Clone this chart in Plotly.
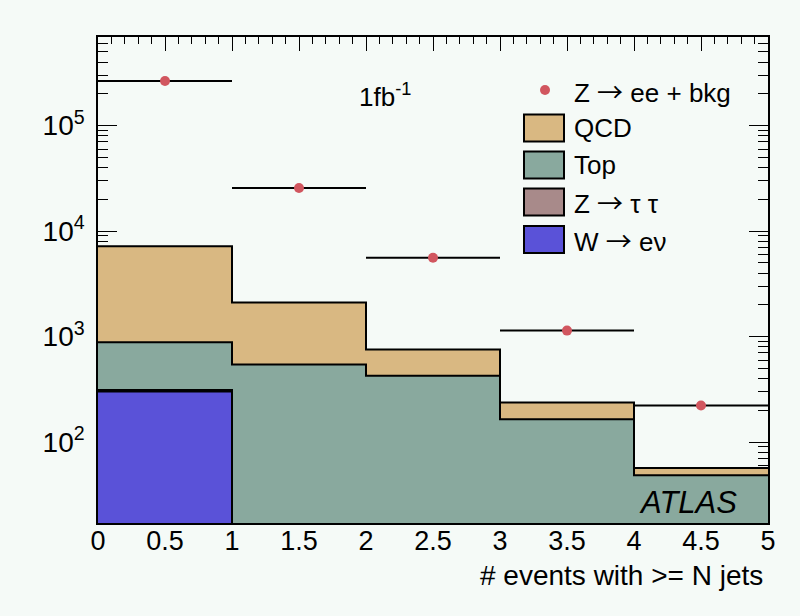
import plotly.graph_objects as go

# Bin edges for "events with >= N jets" (N = 0..4)
bin_edges = [0, 1, 2, 3, 4, 5]
bin_centers = [0.5, 1.5, 2.5, 3.5, 4.5]

# Observed Z -> ee + background candidates per bin
data_zee = [2.65e5, 2.56e4, 5.6e3, 1.14e3, 222]

# Background components (stacked, bottom to top)
w_enu = [301, 4, 1.5, 0.5, 0.2]
z_tautau = [10, 6, 3, 1, 0.4]
top = [573, 533, 420, 163, 48]
qcd = [6316, 1557, 330, 72.5, 8.3]

x_ticks = [0, 0.5, 1, 1.5, 2, 2.5, 3, 3.5, 4, 4.5, 5]
x_ticktext = ["0", "0.5", "1", "1.5", "2", "2.5", "3", "3.5", "4", "4.5", "5"]
y_ticks = [1e2, 1e3, 1e4, 1e5]
y_ticktext = ["10<sup>2</sup>", "10<sup>3</sup>", "10<sup>4</sup>", "10<sup>5</sup>"]

BG = "#f5faf7"
FONT = "Liberation Sans, Arial, Helvetica, sans-serif"
Y_FLOOR = 1.0

COL_QCD = "#d9b882"
COL_TOP = "#89a99e"
COL_ZTT = "#a88a8a"
COL_W = "#5a52d8"
COL_DATA = "#d1565f"

# cumulative stack heights
cum_w = list(w_enu)
cum_ztt = [a + b for a, b in zip(cum_w, z_tautau)]
cum_top = [a + b for a, b in zip(cum_ztt, top)]
cum_qcd = [a + b for a, b in zip(cum_top, qcd)]


def step_xy(vals):
    xs, ys = [], []
    for i, v in enumerate(vals):
        v = max(v, Y_FLOOR)
        xs += [bin_edges[i], bin_edges[i + 1]]
        ys += [v, v]
    return xs, ys


fig = go.Figure()

# Stack drawn from the tallest layer down so lower layers overlay it
for cum, col in [(cum_qcd, COL_QCD), (cum_top, COL_TOP),
                 (cum_ztt, COL_ZTT), (cum_w, COL_W)]:
    xs, ys = step_xy(cum)
    fig.add_trace(go.Scatter(
        x=xs + [bin_edges[-1], bin_edges[0]],
        y=ys + [Y_FLOOR, Y_FLOOR],
        fill="toself", fillcolor=col, mode="lines",
        line=dict(width=0, color=col), hoverinfo="skip", showlegend=False))
    fig.add_trace(go.Scatter(
        x=xs, y=ys, mode="lines", line=dict(color="black", width=2),
        hoverinfo="skip", showlegend=False))

# Data points with bin-width horizontal bars
fig.add_trace(go.Scatter(
    x=bin_centers, y=data_zee, mode="markers",
    marker=dict(color=COL_DATA, size=10),
    error_x=dict(type="data", array=[0.5] * 5, symmetric=True,
                 color="black", thickness=2, width=0),
    showlegend=False))

# plot-area geometry (pixels)
L, R, T, B = 98, 32, 37, 93
W_FIG, H_FIG = 800, 616
PW, PH = W_FIG - L - R, H_FIG - T - B


def px(x):
    return (x - L) / PW


def py(y):
    return (H_FIG - B - y) / PH


ARROW = '<span style="font-family:Noto Sans CJK SC">\u2192</span>'

# Hand-built legend
shapes = []
annotations = []
dot_r = 5
shapes.append(dict(type="circle", xref="paper", yref="paper",
                   x0=px(545 - dot_r), x1=px(545 + dot_r),
                   y0=py(90 + dot_r), y1=py(90 - dot_r),
                   fillcolor=COL_DATA, line=dict(width=0)))
legend_rows = [
    ("Z " + ARROW + " ee + bkg", None, 90),
    ("QCD", COL_QCD, 128),
    ("Top", COL_TOP, 165),
    ("Z " + ARROW + " \u03c4 \u03c4", COL_ZTT, 202),
    ("W " + ARROW + " e\u03bd", COL_W, 239.5),
]
for label, col, yc in legend_rows:
    if col is not None:
        shapes.append(dict(type="rect", xref="paper", yref="paper",
                           x0=px(524), x1=px(564), y0=py(yc + 13.5), y1=py(yc - 13.5),
                           fillcolor=col, line=dict(color="black", width=2)))
    annotations.append(dict(text=label, xref="paper", yref="paper",
                            x=px(572), y=py(yc), xanchor="left", yanchor="middle",
                            showarrow=False, font=dict(size=26, color="black", family=FONT)))

annotations.append(dict(text="1fb<sup>-1</sup>", xref="paper", yref="paper",
                        x=px(357), y=py(96), xanchor="left", yanchor="middle",
                        showarrow=False, font=dict(size=26, color="black", family=FONT)))
annotations.append(dict(text="<i>ATLAS</i>", xref="paper", yref="paper",
                        x=px(739), y=py(502), xanchor="right", yanchor="middle",
                        showarrow=False, font=dict(size=31, color="black", family=FONT)))
annotations.append(dict(text="# events with >= N jets", xref="paper", yref="paper",
                        x=px(765), y=py(575), xanchor="right", yanchor="middle",
                        showarrow=False, font=dict(size=28, color="black", family=FONT)))

y_minor = [m * 10 ** k for k in range(1, 6) for m in range(2, 10)]
x_minor = [i / 10 for i in range(0, 51) if i % 5 != 0]

fig.update_layout(
    width=W_FIG, height=H_FIG,
    margin=dict(l=L, r=R, t=T, b=B),
    paper_bgcolor=BG, plot_bgcolor=BG,
    font=dict(family=FONT, size=24, color="black"),
    shapes=shapes, annotations=annotations,
    showlegend=False,
    xaxis=dict(
        range=[0, 5], tickmode="array", tickvals=x_ticks, ticktext=x_ticktext,
        ticks="inside", ticklen=14, tickwidth=1, tickcolor="black",
        showline=True, linecolor="black", linewidth=1.5, mirror="ticks",
        showgrid=False, zeroline=False, layer="below traces",
        tickfont=dict(size=27, family=FONT), ticklabelstandoff=-7,
        minor=dict(tickmode="array", tickvals=x_minor, ticks="inside",
                   ticklen=7, tickcolor="black", showgrid=False),
    ),
    yaxis=dict(
        type="log", range=[1.233, 5.840], tickmode="array",
        tickvals=y_ticks, ticktext=y_ticktext,
        ticks="inside", ticklen=19, tickwidth=1, tickcolor="black",
        showline=True, linecolor="black", linewidth=1.5, mirror="ticks",
        showgrid=False, zeroline=False, layer="below traces",
        tickfont=dict(size=28, family=FONT), ticklabelstandoff=6,
        minor=dict(tickmode="array", tickvals=y_minor, ticks="inside",
                   ticklen=10, tickcolor="black", showgrid=False),
    ),
)

fig.write_html("out.html")
